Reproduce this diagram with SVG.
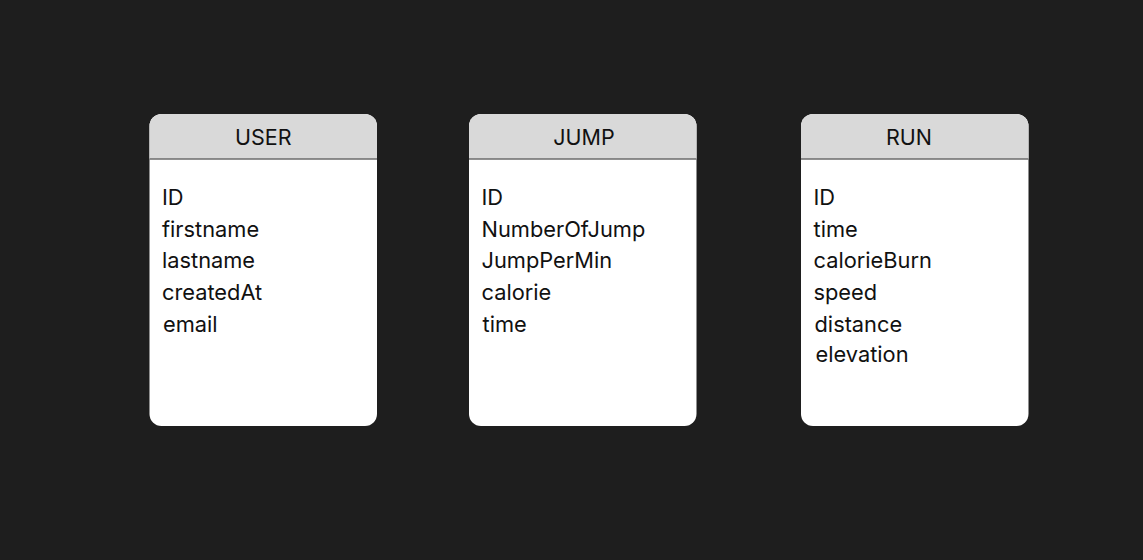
<svg xmlns="http://www.w3.org/2000/svg" width="1143" height="560" viewBox="0 0 1143 560">
<style>
.body{fill:#ffffff}
.head{fill:#d9d9d9}
.div{stroke:#6b6b6b;stroke-width:1.5}
.t{font-family:Inter,"Noto Sans",sans-serif;font-size:21.8px;fill:#111111}
.h{font-family:Inter,"Noto Sans",sans-serif;font-size:21.5px;fill:#111111;text-anchor:middle}
</style>
<rect width="1143" height="560" fill="#1e1e1e"/>
<g id="connectors"></g>
<g id="user" transform="translate(149.5,114)">
<rect class="body" x="0" y="0" width="227.5" height="312" rx="12"/>
<path class="head" d="M0 45 V12 A12 12 0 0 1 12 0 H215.5 A12 12 0 0 1 227.5 12 V45 Z"/>
<line class="div" x1="0" y1="45" x2="227.5" y2="45"/>
<text class="h" x="113.75" y="30.5">USER</text>
<text class="t" x="12.5" y="90.8">ID</text>
<text class="t" x="12.5" y="122.6">firstname</text>
<text class="t" x="12.5" y="154.4">lastname</text>
<text class="t" x="12.5" y="186.2">createdAt</text>
<text class="t" x="13.5" y="218">email</text>
</g>
<g id="jump" transform="translate(469,114)">
<rect class="body" x="0" y="0" width="227.5" height="312" rx="12"/>
<path class="head" d="M0 45 V12 A12 12 0 0 1 12 0 H215.5 A12 12 0 0 1 227.5 12 V45 Z"/>
<line class="div" x1="0" y1="45" x2="227.5" y2="45"/>
<text class="h" x="115" y="30.5">JUMP</text>
<text class="t" x="12.5" y="90.8">ID</text>
<text class="t" x="12.5" y="122.6">NumberOfJump</text>
<text class="t" x="12.5" y="154.4">JumpPerMin</text>
<text class="t" x="12.5" y="186.2">calorie</text>
<text class="t" x="13.5" y="218">time</text>
</g>
<g id="run" transform="translate(801,114)">
<rect class="body" x="0" y="0" width="227.5" height="312" rx="12"/>
<path class="head" d="M0 45 V12 A12 12 0 0 1 12 0 H215.5 A12 12 0 0 1 227.5 12 V45 Z"/>
<line class="div" x1="0" y1="45" x2="227.5" y2="45"/>
<text class="h" x="108" y="30.5">RUN</text>
<text class="t" x="12.5" y="90.8">ID</text>
<text class="t" x="12.5" y="122.6">time</text>
<text class="t" x="12.5" y="154.4">calorieBurn</text>
<text class="t" x="12.5" y="186.2">speed</text>
<text class="t" x="13.5" y="218">distance</text>
<text class="t" x="14.5" y="247.5">elevation</text>
</g>
</svg>
